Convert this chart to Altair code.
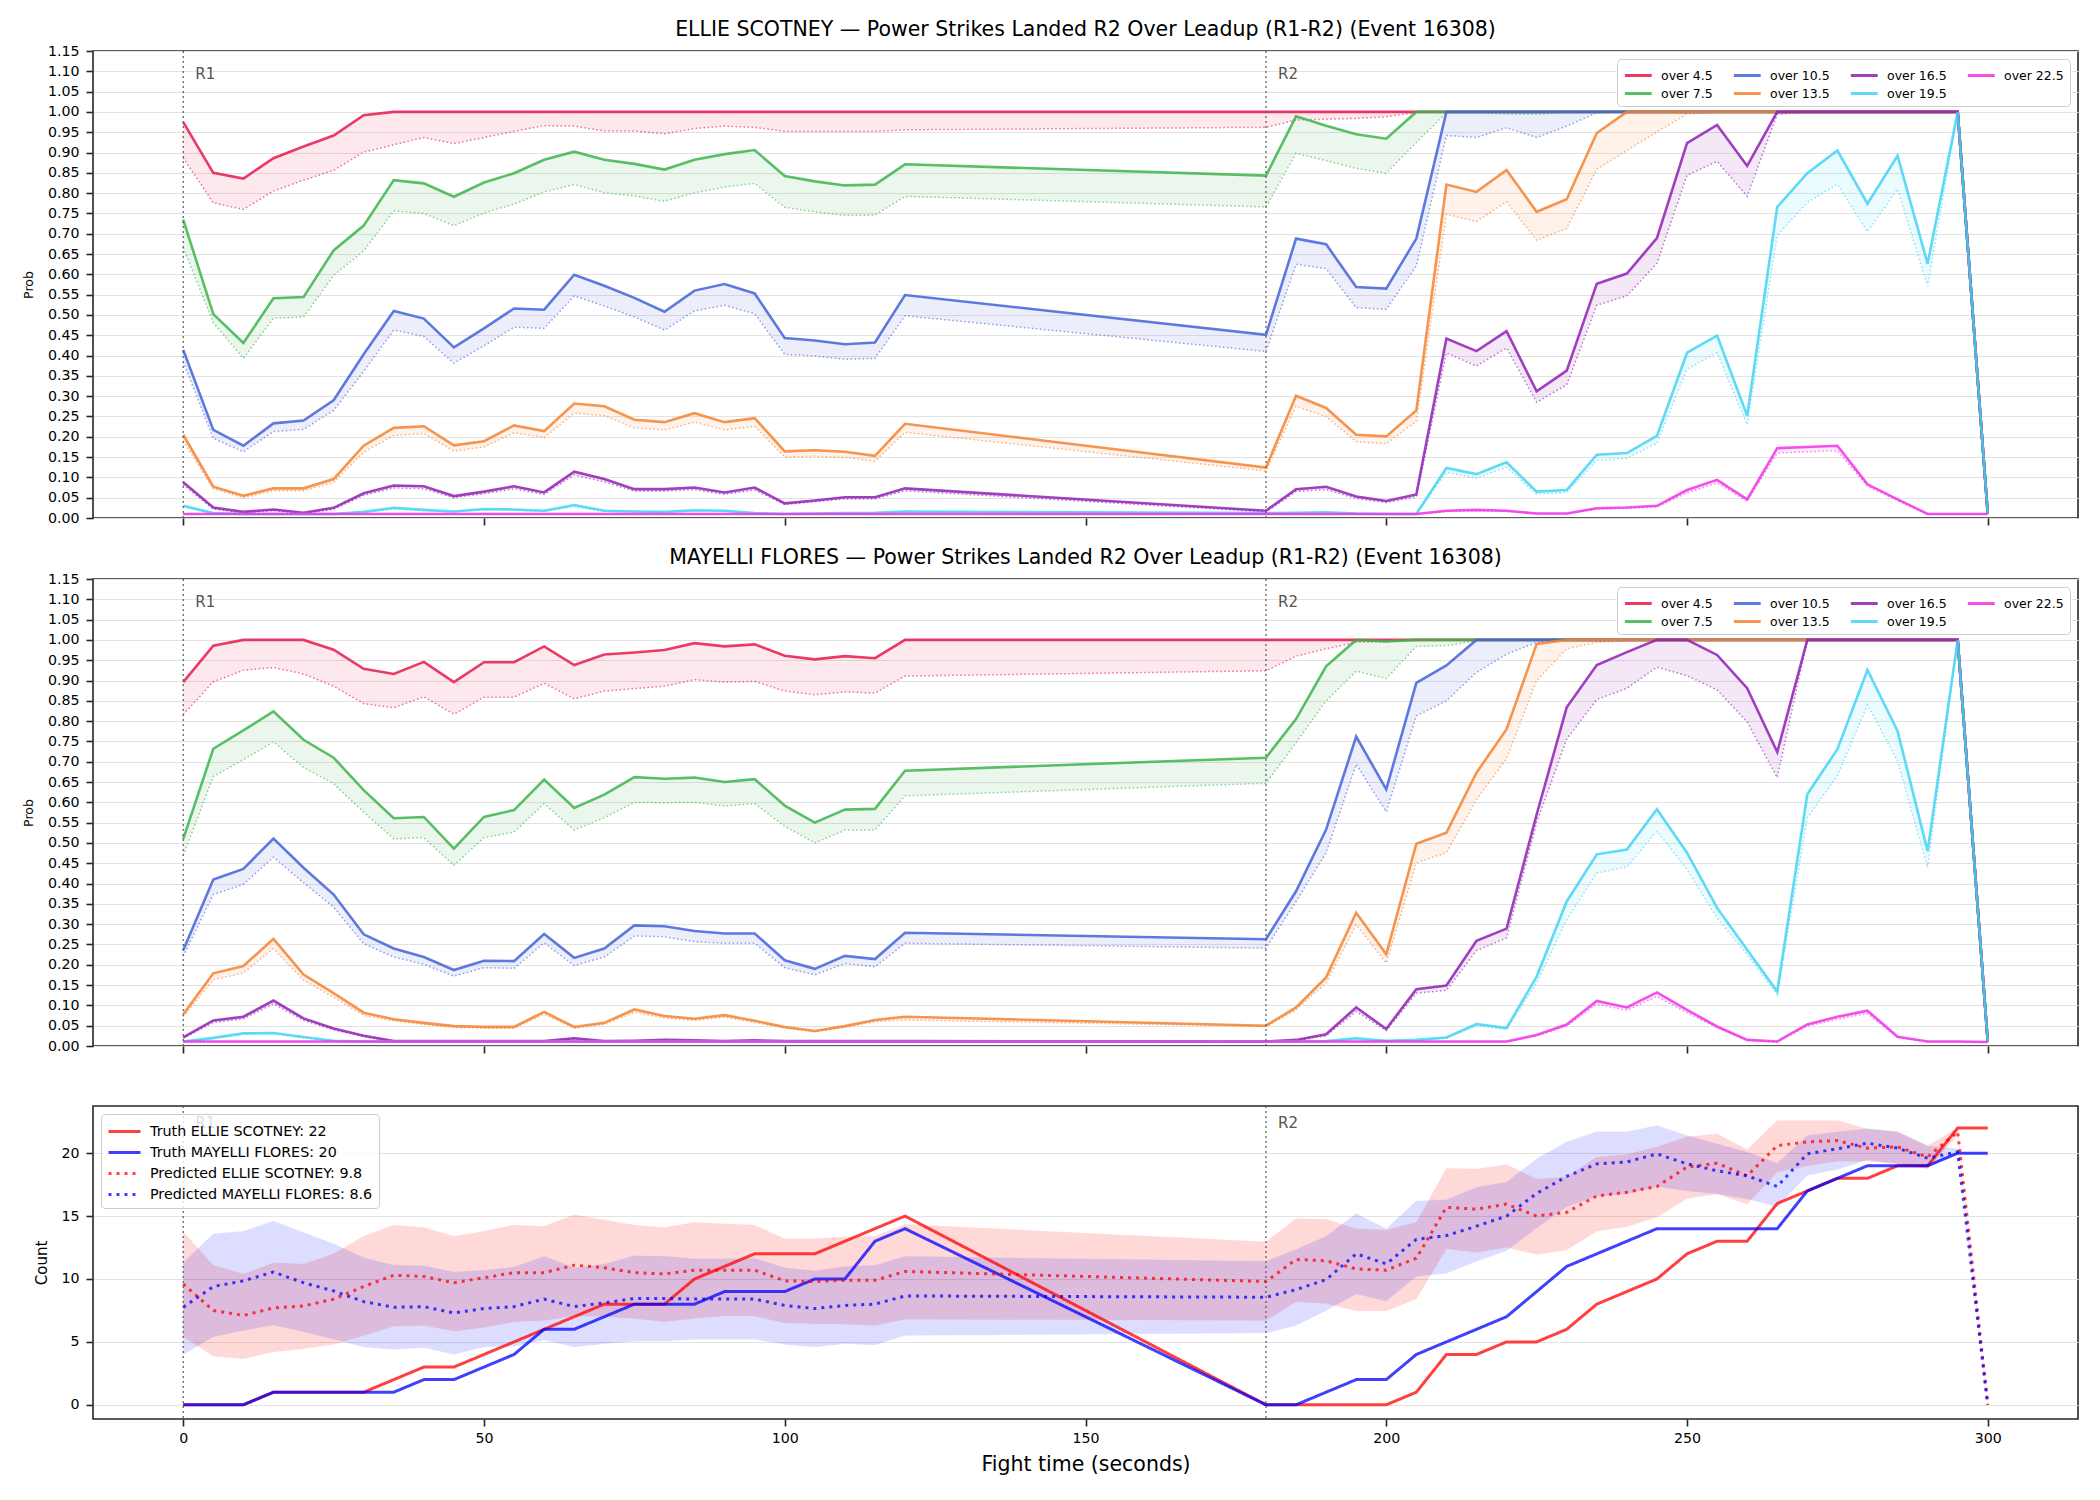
import altair as alt
import pandas as pd

# ---------------- data ----------------
TIMES = [0, 5, 10, 15, 20, 25, 30, 35, 40, 45, 50, 55, 60, 65, 70, 75, 80, 85, 90, 95, 100, 105, 110, 115, 120,
         180, 185, 190, 195, 200, 205, 210, 215, 220, 225, 230, 235, 240, 245, 250, 255, 260, 265, 270, 275, 280, 285, 290, 295, 300]
X_TICKS = [0, 50, 100, 150, 200, 250, 300]
PROB_TICKS = [0.0, 0.05, 0.1, 0.15, 0.2, 0.25, 0.3, 0.35, 0.4, 0.45, 0.5, 0.55, 0.6, 0.65, 0.7, 0.75, 0.8, 0.85, 0.9, 0.95, 1.0, 1.05, 1.1, 1.15]
COUNT_TICKS = [0, 5, 10, 15, 20]
THRESHOLDS = ["over 4.5", "over 7.5", "over 10.5", "over 13.5", "over 16.5", "over 19.5", "over 22.5"]
THRESH_COLORS = ["#e6194b", "#3cb44b", "#4363d8", "#f58231", "#911eb4", "#42d4f4", "#f032e6"]
ROUND_T = [0, 180]
ROUND_LABELS = ["R1", "R2"]

TITLE_ES = "ELLIE SCOTNEY \u2014 Power Strikes Landed R2 Over Leadup (R1-R2) (Event 16308)"
TITLE_MF = "MAYELLI FLORES \u2014 Power Strikes Landed R2 Over Leadup (R1-R2) (Event 16308)"

# ELLIE SCOTNEY: solid (HI) and dotted (LO) curves
ES_HI_45 = [0.975, 0.850, 0.836, 0.886, 0.915, 0.942, 0.992, 1.000, 1.000, 1.000, 1.000, 1.000, 1.000, 1.000, 1.000, 1.000, 1.000, 1.000, 1.000, 1.000, 1.000, 1.000, 1.000, 1.000, 1.000,
            1.000, 1.000, 1.000, 1.000, 1.000, 1.000, 1.000, 1.000, 1.000, 1.000, 1.000, 1.000, 1.000, 1.000, 1.000, 1.000, 1.000, 1.000, 1.000, 1.000, 1.000, 1.000, 1.000, 1.000, 0.010]
ES_LO_45 = [0.887, 0.776, 0.760, 0.805, 0.832, 0.856, 0.901, 0.919, 0.937, 0.922, 0.937, 0.952, 0.966, 0.965, 0.953, 0.953, 0.946, 0.959, 0.965, 0.962, 0.952, 0.952, 0.952, 0.952, 0.956,
            0.962, 0.980, 0.982, 0.984, 0.988, 0.999, 1.000, 1.000, 1.000, 1.000, 1.000, 1.000, 1.000, 1.000, 1.000, 1.000, 1.000, 1.000, 1.000, 1.000, 1.000, 1.000, 1.000, 1.000, 0.010]
ES_HI_75 = [0.735, 0.502, 0.431, 0.541, 0.544, 0.659, 0.720, 0.832, 0.824, 0.791, 0.826, 0.849, 0.882, 0.902, 0.882, 0.872, 0.858, 0.882, 0.896, 0.906, 0.842, 0.829, 0.819, 0.821, 0.871,
            0.843, 0.989, 0.966, 0.945, 0.934, 1.000, 1.000, 1.000, 1.000, 1.000, 1.000, 1.000, 1.000, 1.000, 1.000, 1.000, 1.000, 1.000, 1.000, 1.000, 1.000, 1.000, 1.000, 1.000, 0.010]
ES_LO_75 = [0.666, 0.481, 0.393, 0.492, 0.495, 0.597, 0.658, 0.756, 0.750, 0.720, 0.751, 0.773, 0.803, 0.821, 0.801, 0.793, 0.780, 0.801, 0.815, 0.824, 0.765, 0.754, 0.745, 0.746, 0.792,
            0.766, 0.898, 0.880, 0.861, 0.849, 0.925, 0.998, 0.998, 0.995, 0.994, 1.000, 1.000, 1.000, 1.000, 1.000, 1.000, 1.000, 1.000, 1.000, 1.000, 1.000, 1.000, 1.000, 1.000, 0.010]
ES_HI_105 = [0.414, 0.217, 0.178, 0.233, 0.240, 0.290, 0.403, 0.510, 0.491, 0.420, 0.467, 0.516, 0.513, 0.599, 0.572, 0.542, 0.508, 0.560, 0.576, 0.553, 0.443, 0.437, 0.428, 0.432, 0.549,
             0.451, 0.688, 0.674, 0.569, 0.565, 0.688, 1.000, 1.000, 1.000, 1.000, 1.000, 1.000, 1.000, 1.000, 1.000, 1.000, 1.000, 1.000, 1.000, 1.000, 1.000, 1.000, 1.000, 1.000, 0.010]
ES_LO_105 = [0.385, 0.196, 0.163, 0.213, 0.218, 0.265, 0.361, 0.463, 0.447, 0.381, 0.424, 0.470, 0.467, 0.547, 0.522, 0.495, 0.463, 0.510, 0.524, 0.503, 0.403, 0.399, 0.391, 0.393, 0.498,
             0.410, 0.625, 0.614, 0.518, 0.514, 0.621, 0.942, 0.937, 0.961, 0.937, 0.965, 0.998, 1.000, 1.000, 1.000, 1.000, 1.000, 1.000, 1.000, 1.000, 1.000, 1.000, 1.000, 1.000, 0.010]
ES_HI_135 = [0.205, 0.077, 0.055, 0.073, 0.073, 0.096, 0.178, 0.222, 0.226, 0.179, 0.189, 0.228, 0.214, 0.282, 0.275, 0.242, 0.236, 0.258, 0.236, 0.246, 0.164, 0.167, 0.163, 0.153, 0.232,
             0.124, 0.301, 0.271, 0.205, 0.201, 0.265, 0.821, 0.803, 0.857, 0.754, 0.785, 0.948, 1.000, 1.000, 1.000, 1.000, 1.000, 1.000, 1.000, 1.000, 1.000, 1.000, 1.000, 1.000, 0.010]
ES_LO_135 = [0.190, 0.072, 0.050, 0.067, 0.067, 0.088, 0.162, 0.203, 0.208, 0.165, 0.175, 0.210, 0.198, 0.258, 0.252, 0.222, 0.217, 0.236, 0.217, 0.226, 0.150, 0.152, 0.149, 0.140, 0.211,
             0.116, 0.275, 0.250, 0.188, 0.183, 0.238, 0.748, 0.730, 0.779, 0.684, 0.713, 0.859, 0.905, 0.951, 0.995, 1.000, 1.000, 1.000, 1.000, 1.000, 1.000, 1.000, 1.000, 1.000, 0.010]
ES_HI_165 = [0.088, 0.026, 0.015, 0.021, 0.013, 0.025, 0.061, 0.080, 0.078, 0.054, 0.065, 0.078, 0.063, 0.114, 0.096, 0.071, 0.071, 0.075, 0.063, 0.075, 0.036, 0.043, 0.051, 0.051, 0.073,
             0.018, 0.071, 0.077, 0.053, 0.042, 0.058, 0.442, 0.411, 0.460, 0.312, 0.363, 0.577, 0.602, 0.689, 0.923, 0.968, 0.867, 1.000, 1.000, 1.000, 1.000, 1.000, 1.000, 1.000, 0.010]
ES_LO_165 = [0.082, 0.022, 0.012, 0.018, 0.011, 0.021, 0.056, 0.074, 0.072, 0.050, 0.060, 0.072, 0.058, 0.106, 0.089, 0.066, 0.066, 0.070, 0.058, 0.069, 0.033, 0.040, 0.047, 0.047, 0.067,
             0.015, 0.065, 0.070, 0.048, 0.038, 0.052, 0.407, 0.374, 0.419, 0.285, 0.328, 0.524, 0.547, 0.627, 0.844, 0.878, 0.792, 0.994, 1.000, 1.000, 1.000, 1.000, 1.000, 1.000, 0.010]
ES_HI_195 = [0.030, 0.012, 0.010, 0.010, 0.010, 0.010, 0.015, 0.025, 0.020, 0.016, 0.022, 0.021, 0.018, 0.032, 0.018, 0.016, 0.015, 0.019, 0.018, 0.012, 0.010, 0.011, 0.012, 0.013, 0.016,
             0.012, 0.013, 0.014, 0.011, 0.010, 0.010, 0.123, 0.108, 0.137, 0.065, 0.069, 0.156, 0.160, 0.202, 0.407, 0.449, 0.252, 0.766, 0.849, 0.905, 0.774, 0.892, 0.626, 1.000, 0.010]
ES_LO_195 = [0.027, 0.011, 0.010, 0.010, 0.010, 0.010, 0.014, 0.022, 0.018, 0.015, 0.020, 0.019, 0.016, 0.028, 0.016, 0.015, 0.014, 0.017, 0.016, 0.011, 0.010, 0.010, 0.011, 0.012, 0.015,
             0.011, 0.012, 0.013, 0.010, 0.010, 0.010, 0.112, 0.098, 0.125, 0.059, 0.063, 0.142, 0.147, 0.184, 0.367, 0.407, 0.230, 0.696, 0.777, 0.822, 0.705, 0.810, 0.571, 0.999, 0.010]
ES_HI_225 = [0.010, 0.010, 0.010, 0.010, 0.010, 0.010, 0.010, 0.010, 0.010, 0.010, 0.010, 0.010, 0.010, 0.010, 0.010, 0.010, 0.010, 0.010, 0.010, 0.010, 0.010, 0.010, 0.010, 0.010, 0.010,
             0.010, 0.010, 0.010, 0.010, 0.010, 0.010, 0.018, 0.020, 0.018, 0.011, 0.011, 0.024, 0.026, 0.030, 0.069, 0.094, 0.046, 0.172, 0.175, 0.178, 0.083, 0.046, 0.010, 0.010, 0.010]
ES_LO_225 = [0.009, 0.009, 0.009, 0.009, 0.009, 0.009, 0.009, 0.009, 0.009, 0.009, 0.009, 0.009, 0.009, 0.009, 0.009, 0.009, 0.009, 0.009, 0.009, 0.009, 0.009, 0.009, 0.009, 0.009, 0.009,
             0.009, 0.009, 0.009, 0.009, 0.009, 0.009, 0.016, 0.018, 0.016, 0.010, 0.010, 0.022, 0.024, 0.027, 0.062, 0.086, 0.042, 0.160, 0.163, 0.166, 0.078, 0.043, 0.009, 0.009, 0.009]

# MAYELLI FLORES
MF_HI_45 = [0.896, 0.986, 1.000, 1.000, 1.000, 0.976, 0.929, 0.916, 0.946, 0.896, 0.945, 0.945, 0.984, 0.938, 0.964, 0.969, 0.975, 0.992, 0.984, 0.989, 0.961, 0.952, 0.960, 0.955, 1.000,
            1.000, 1.000, 1.000, 1.000, 1.000, 1.000, 1.000, 1.000, 1.000, 1.000, 1.000, 1.000, 1.000, 1.000, 1.000, 1.000, 1.000, 1.000, 1.000, 1.000, 1.000, 1.000, 1.000, 1.000, 0.010]
MF_LO_45 = [0.816, 0.897, 0.925, 0.932, 0.916, 0.886, 0.843, 0.833, 0.860, 0.817, 0.859, 0.859, 0.893, 0.855, 0.874, 0.880, 0.886, 0.902, 0.896, 0.898, 0.874, 0.865, 0.872, 0.869, 0.911,
            0.924, 0.960, 0.978, 0.994, 0.996, 1.000, 1.000, 1.000, 1.000, 1.000, 1.000, 1.000, 1.000, 1.000, 1.000, 1.000, 1.000, 1.000, 1.000, 1.000, 1.000, 1.000, 1.000, 1.000, 0.010]
MF_HI_75 = [0.510, 0.732, 0.777, 0.824, 0.754, 0.710, 0.630, 0.561, 0.564, 0.486, 0.564, 0.581, 0.656, 0.586, 0.619, 0.662, 0.658, 0.661, 0.650, 0.657, 0.592, 0.550, 0.582, 0.584, 0.678,
            0.710, 0.805, 0.935, 1.000, 0.996, 1.000, 1.000, 1.000, 1.000, 1.000, 1.000, 1.000, 1.000, 1.000, 1.000, 1.000, 1.000, 1.000, 1.000, 1.000, 1.000, 1.000, 1.000, 1.000, 0.010]
MF_LO_75 = [0.469, 0.664, 0.705, 0.749, 0.686, 0.646, 0.576, 0.510, 0.513, 0.445, 0.513, 0.527, 0.597, 0.532, 0.562, 0.600, 0.599, 0.600, 0.591, 0.597, 0.541, 0.500, 0.531, 0.532, 0.616,
            0.647, 0.747, 0.850, 0.923, 0.905, 0.984, 0.986, 0.998, 1.000, 1.000, 1.000, 1.000, 1.000, 1.000, 1.000, 1.000, 1.000, 1.000, 1.000, 1.000, 1.000, 1.000, 1.000, 1.000, 0.010]
MF_HI_105 = [0.236, 0.410, 0.436, 0.511, 0.439, 0.373, 0.275, 0.240, 0.219, 0.187, 0.210, 0.209, 0.276, 0.217, 0.240, 0.297, 0.295, 0.283, 0.277, 0.277, 0.211, 0.190, 0.222, 0.214, 0.279,
             0.263, 0.381, 0.533, 0.762, 0.632, 0.894, 0.937, 1.000, 1.000, 1.000, 1.000, 1.000, 1.000, 1.000, 1.000, 1.000, 1.000, 1.000, 1.000, 1.000, 1.000, 1.000, 1.000, 1.000, 0.010]
MF_LO_105 = [0.221, 0.373, 0.398, 0.465, 0.402, 0.342, 0.252, 0.219, 0.201, 0.172, 0.193, 0.191, 0.254, 0.198, 0.219, 0.271, 0.269, 0.257, 0.253, 0.253, 0.193, 0.175, 0.203, 0.195, 0.253,
             0.241, 0.356, 0.476, 0.694, 0.577, 0.813, 0.850, 0.920, 0.965, 0.994, 1.000, 1.000, 1.000, 1.000, 1.000, 1.000, 1.000, 1.000, 1.000, 1.000, 1.000, 1.000, 1.000, 1.000, 0.010]
MF_HI_135 = [0.078, 0.179, 0.197, 0.264, 0.176, 0.130, 0.082, 0.066, 0.057, 0.049, 0.047, 0.047, 0.084, 0.047, 0.057, 0.090, 0.074, 0.067, 0.076, 0.062, 0.047, 0.037, 0.049, 0.064, 0.072,
             0.050, 0.095, 0.169, 0.328, 0.226, 0.498, 0.525, 0.673, 0.780, 0.990, 1.000, 1.000, 1.000, 1.000, 1.000, 1.000, 1.000, 1.000, 1.000, 1.000, 1.000, 1.000, 1.000, 1.000, 0.010]
MF_LO_135 = [0.072, 0.163, 0.180, 0.240, 0.162, 0.120, 0.075, 0.062, 0.053, 0.046, 0.044, 0.044, 0.078, 0.044, 0.053, 0.083, 0.069, 0.063, 0.071, 0.058, 0.044, 0.035, 0.046, 0.060, 0.064,
             0.048, 0.089, 0.155, 0.299, 0.204, 0.451, 0.476, 0.607, 0.708, 0.900, 0.978, 0.994, 0.998, 1.000, 1.000, 1.000, 1.000, 1.000, 1.000, 1.000, 1.000, 1.000, 1.000, 1.000, 0.010]
MF_HI_165 = [0.021, 0.063, 0.072, 0.112, 0.068, 0.043, 0.025, 0.012, 0.012, 0.012, 0.012, 0.012, 0.012, 0.019, 0.012, 0.013, 0.015, 0.014, 0.012, 0.014, 0.012, 0.012, 0.012, 0.012, 0.012,
             0.011, 0.015, 0.029, 0.095, 0.042, 0.140, 0.149, 0.259, 0.289, 0.570, 0.834, 0.938, 0.970, 1.000, 1.000, 0.963, 0.881, 0.724, 1.000, 1.000, 1.000, 1.000, 1.000, 1.000, 0.010]
MF_LO_165 = [0.019, 0.058, 0.067, 0.104, 0.063, 0.040, 0.023, 0.011, 0.011, 0.011, 0.011, 0.011, 0.011, 0.017, 0.011, 0.012, 0.013, 0.012, 0.011, 0.012, 0.011, 0.011, 0.011, 0.011, 0.011,
             0.011, 0.013, 0.025, 0.085, 0.038, 0.130, 0.137, 0.235, 0.266, 0.550, 0.756, 0.853, 0.881, 0.933, 0.912, 0.877, 0.798, 0.661, 1.000, 1.000, 1.000, 1.000, 1.000, 1.000, 0.010]
MF_HI_195 = [0.011, 0.020, 0.031, 0.032, 0.022, 0.013, 0.011, 0.011, 0.011, 0.011, 0.011, 0.011, 0.011, 0.011, 0.011, 0.011, 0.011, 0.011, 0.011, 0.011, 0.011, 0.011, 0.011, 0.011, 0.011,
             0.011, 0.011, 0.012, 0.019, 0.013, 0.015, 0.021, 0.054, 0.044, 0.171, 0.356, 0.472, 0.484, 0.583, 0.476, 0.340, 0.237, 0.134, 0.620, 0.731, 0.926, 0.776, 0.480, 1.000, 0.010]
MF_LO_195 = [0.010, 0.018, 0.029, 0.030, 0.020, 0.012, 0.010, 0.010, 0.010, 0.010, 0.010, 0.010, 0.010, 0.010, 0.010, 0.010, 0.010, 0.010, 0.010, 0.010, 0.010, 0.010, 0.010, 0.010, 0.010,
             0.010, 0.010, 0.011, 0.017, 0.012, 0.014, 0.019, 0.050, 0.041, 0.155, 0.311, 0.426, 0.441, 0.529, 0.435, 0.315, 0.225, 0.126, 0.562, 0.665, 0.840, 0.702, 0.439, 0.999, 0.010]
MF_HI_225 = [0.011, 0.011, 0.011, 0.011, 0.011, 0.011, 0.011, 0.011, 0.011, 0.011, 0.011, 0.011, 0.011, 0.011, 0.011, 0.011, 0.011, 0.011, 0.011, 0.011, 0.011, 0.011, 0.011, 0.011, 0.011,
             0.011, 0.011, 0.011, 0.011, 0.011, 0.011, 0.011, 0.011, 0.011, 0.027, 0.053, 0.111, 0.095, 0.132, 0.089, 0.048, 0.015, 0.011, 0.053, 0.072, 0.087, 0.023, 0.011, 0.011, 0.010]
MF_LO_225 = [0.010, 0.010, 0.010, 0.010, 0.010, 0.010, 0.010, 0.010, 0.010, 0.010, 0.010, 0.010, 0.010, 0.010, 0.010, 0.010, 0.010, 0.010, 0.010, 0.010, 0.010, 0.010, 0.010, 0.010, 0.010,
             0.010, 0.010, 0.010, 0.010, 0.010, 0.010, 0.010, 0.010, 0.010, 0.025, 0.049, 0.103, 0.088, 0.122, 0.082, 0.045, 0.014, 0.010, 0.049, 0.066, 0.080, 0.021, 0.010, 0.010, 0.009]

# Count panel
COUNT_LABELS = ["Truth ELLIE SCOTNEY: 22", "Truth MAYELLI FLORES: 20",
                "Predicted ELLIE SCOTNEY: 9.8", "Predicted MAYELLI FLORES: 8.6"]
TRUTH_ES = [0, 0, 0, 1, 1, 1, 1, 2, 3, 3, 4, 5, 6, 7, 8, 8, 8, 10, 11, 12, 12, 12, 13, 14, 15,
            0, 0, 0, 0, 0, 1, 4, 4, 5, 5, 6, 8, 9, 10, 12, 13, 13, 16, 17, 18, 18, 19, 19, 22, 22]
TRUTH_MF = [0, 0, 0, 1, 1, 1, 1, 1, 2, 2, 3, 4, 6, 6, 7, 8, 8, 8, 9, 9, 9, 10, 10, 13, 14,
            0, 0, 1, 2, 2, 4, 5, 6, 7, 9, 11, 12, 13, 14, 14, 14, 14, 14, 17, 18, 19, 19, 19, 20, 20]
PRED_ES = [9.6, 7.5, 7.1, 7.7, 7.85, 8.4, 9.4, 10.3, 10.2, 9.7, 10.1, 10.5, 10.5, 11.1, 10.9, 10.5, 10.4, 10.7, 10.7, 10.7, 9.85, 9.8, 9.9, 9.9, 10.6,
           9.8, 11.55, 11.45, 10.8, 10.7, 11.65, 15.7, 15.55, 15.95, 15.0, 15.3, 16.6, 16.9, 17.35, 18.9, 19.2, 18.2, 20.6, 20.9, 21.0, 20.4, 20.5, 19.7, 21.7, 0.0]
PRED_MF = [7.75, 9.4, 9.85, 10.55, 9.7, 9.05, 8.2, 7.75, 7.8, 7.3, 7.65, 7.8, 8.4, 7.8, 8.1, 8.45, 8.45, 8.4, 8.4, 8.4, 7.9, 7.65, 7.9, 8.0, 8.65,
           8.55, 9.15, 9.95, 12.0, 11.2, 13.15, 13.45, 14.2, 15.0, 16.8, 18.15, 19.15, 19.3, 19.95, 19.15, 18.6, 18.2, 17.35, 19.95, 20.35, 20.8, 20.4, 19.6, 20.1, 0.0]
BAND_ES_HI = [13.75, 11.1, 10.4, 11.3, 11.2, 12.0, 13.4, 14.3, 14.1, 13.4, 13.8, 14.3, 14.2, 15.1, 14.7, 14.3, 14.1, 14.5, 14.4, 14.3, 13.2, 13.2, 13.35, 13.4, 14.35,
              12.95, 14.8, 14.75, 14.0, 13.9, 14.5, 18.8, 18.75, 19.1, 17.95, 18.1, 19.7, 19.9, 20.5, 21.3, 21.55, 20.3, 22.6, 22.6, 22.6, 21.95, 21.7, 20.6, 22.0, 0.0]
BAND_ES_LO = [5.4, 3.85, 3.65, 4.2, 4.45, 4.8, 5.5, 6.25, 6.3, 5.85, 6.15, 6.6, 6.7, 7.05, 7.0, 6.85, 6.6, 6.85, 7.05, 7.05, 6.5, 6.45, 6.4, 6.3, 6.8,
              6.7, 8.2, 8.05, 7.45, 7.45, 8.4, 12.4, 12.1, 12.5, 11.95, 12.3, 13.8, 14.15, 14.9, 16.4, 16.75, 15.95, 18.5, 19.0, 19.35, 19.35, 19.15, 18.75, 21.4, 0.0]
BAND_MF_HI = [11.3, 13.6, 13.8, 14.6, 13.7, 12.8, 11.7, 11.1, 11.05, 10.55, 10.7, 10.95, 11.8, 10.9, 11.2, 11.85, 11.8, 11.6, 11.6, 11.65, 10.9, 10.65, 11.0, 11.1, 11.8,
              11.4, 12.35, 13.4, 15.2, 14.0, 16.2, 16.3, 17.3, 17.7, 19.55, 20.9, 21.7, 21.7, 22.2, 21.4, 20.75, 20.1, 19.2, 21.4, 21.7, 21.95, 21.7, 20.6, 20.35, 0.0]
BAND_MF_LO = [4.0, 5.4, 5.9, 6.35, 5.8, 5.2, 4.6, 4.4, 4.55, 4.0, 4.6, 4.65, 5.15, 4.6, 4.85, 5.05, 5.05, 5.2, 5.2, 5.2, 4.8, 4.6, 4.85, 4.75, 5.5,
              5.7, 6.3, 7.5, 8.8, 8.25, 10.2, 10.45, 11.4, 12.25, 14.05, 15.75, 16.55, 16.75, 17.35, 17.0, 16.75, 16.35, 15.75, 18.25, 18.7, 19.45, 19.15, 18.9, 19.95, 0.0]

# ---------------- build tables ----------------
ES_HI = [ES_HI_45, ES_HI_75, ES_HI_105, ES_HI_135, ES_HI_165, ES_HI_195, ES_HI_225]
ES_LO = [ES_LO_45, ES_LO_75, ES_LO_105, ES_LO_135, ES_LO_165, ES_LO_195, ES_LO_225]
MF_HI = [MF_HI_45, MF_HI_75, MF_HI_105, MF_HI_135, MF_HI_165, MF_HI_195, MF_HI_225]
MF_LO = [MF_LO_45, MF_LO_75, MF_LO_105, MF_LO_135, MF_LO_165, MF_LO_195, MF_LO_225]


def prob_table(his, los):
    rows = []
    for name, hi, lo in zip(THRESHOLDS, his, los):
        assert len(hi) == len(TIMES) and len(lo) == len(TIMES), (name, len(hi), len(lo))
        for t, h, l in zip(TIMES, hi, lo):
            rows.append({"t": t, "series": name, "hi": h, "lo": l})
    return pd.DataFrame(rows)


marks_df = pd.DataFrame({"t": ROUND_T, "label": ROUND_LABELS})

FONT = "DejaVu Sans"
PLOT_W = 1985
XSCALE = alt.Scale(domain=[-15, 315], nice=False, zero=False)
X_AXIS_TOP = alt.Axis(values=X_TICKS, labels=False, title=None, grid=False)
X_AXIS_BOTTOM = alt.Axis(values=X_TICKS, title="Fight time (seconds)", grid=False, labelPadding=5,
                         titleFontSize=20.5, titleY=45, titleBaseline="middle")


def prob_panel(title, df):
    xe = alt.X("t:Q", scale=XSCALE, axis=X_AXIS_TOP)
    yscale = alt.Scale(domain=[0, 1.15], nice=False, zero=False)
    yaxis = alt.Axis(values=PROB_TICKS, format=".2f", title="Prob", titleFontSize=12.5,
                     titleX=-65, titleBaseline="middle", titleAlign="center")
    cscale = alt.Scale(domain=THRESHOLDS, range=THRESH_COLORS)
    legend = alt.Legend(title=None, orient="top-right", offset=8, columns=4,
                        symbolType="M-1,0H2.1", symbolStrokeWidth=3, symbolSize=300, symbolOpacity=0.85,
                        symbolFillColor="transparent", symbolDash=[1, 0],
                        labelFontSize=12.5, labelFont=FONT, labelColor="black",
                        fillColor="white", strokeColor="#cccccc", padding=6, cornerRadius=4,
                        columnPadding=14, rowPadding=1, labelOffset=17)
    band = alt.Chart(df).mark_area(opacity=0.1).encode(
        x=xe, y=alt.Y("lo:Q", scale=yscale, axis=yaxis), y2="hi:Q",
        color=alt.Color("series:N", scale=cscale, legend=legend))
    dotted = alt.Chart(df).mark_line(strokeDash=[1.5, 2.5], strokeWidth=1.5, opacity=0.6).encode(
        x=xe, y=alt.Y("lo:Q", scale=yscale, axis=yaxis),
        color=alt.Color("series:N", scale=cscale, legend=legend))
    solid = alt.Chart(df).mark_line(strokeWidth=2.6, opacity=0.85).encode(
        x=xe, y=alt.Y("hi:Q", scale=yscale, axis=yaxis),
        color=alt.Color("series:N", scale=cscale, legend=legend))
    rules = alt.Chart(marks_df).mark_rule(color="#555555", strokeDash=[2, 3], strokeWidth=1.2).encode(x=xe)
    texts = alt.Chart(marks_df).mark_text(align="left", baseline="middle", dx=12, fontSize=15,
                                          color="#555555", font=FONT).encode(
        x=xe, y=alt.value(23), text="label:N")
    return alt.layer(band, dotted, solid, rules, texts).properties(
        width=PLOT_W, height=467,
        title=alt.TitleParams(text=title, fontSize=20.5, fontWeight="normal", font=FONT,
                              anchor="middle", frame="group", offset=4, color="black"))


df_es = prob_table(ES_HI, ES_LO)
df_mf = prob_table(MF_HI, MF_LO)
p1 = prob_panel(TITLE_ES, df_es)
p2 = prob_panel(TITLE_MF, df_mf)

# count panel tables
band_rows = []
for who, his, los in [("ES", BAND_ES_HI, BAND_ES_LO), ("MF", BAND_MF_HI, BAND_MF_LO)]:
    for t, h, l in zip(TIMES, his, los):
        band_rows.append({"t": t, "who": who, "hi": h, "lo": l})
band_df = pd.DataFrame(band_rows)
line_rows = []
for lab, vals in zip(COUNT_LABELS, [TRUTH_ES, TRUTH_MF, PRED_ES, PRED_MF]):
    assert len(vals) == len(TIMES), lab
    for t, v in zip(TIMES, vals):
        line_rows.append({"t": t, "label": lab, "v": v})
line_df = pd.DataFrame(line_rows)

xb = alt.X("t:Q", scale=XSCALE, axis=X_AXIS_BOTTOM)
cy = alt.Scale(domain=[-1.13, 23.75], nice=False, zero=False)
cyaxis = alt.Axis(values=COUNT_TICKS, title="Count", titleFontSize=15, titleX=-52,
                  titleBaseline="middle", titleAlign="center")
band_es = alt.Chart(band_df).transform_filter(alt.datum.who == "ES").mark_area(
    color="#ff0000", opacity=0.15, stroke="#ff0000", strokeOpacity=0.12, strokeWidth=1).encode(
    x=xb, y=alt.Y("lo:Q", scale=cy, axis=cyaxis), y2="hi:Q")
band_mf = alt.Chart(band_df).transform_filter(alt.datum.who == "MF").mark_area(
    color="#0000ff", opacity=0.13, stroke="#0000ff", strokeOpacity=0.1, strokeWidth=1).encode(
    x=xb, y=alt.Y("lo:Q", scale=cy, axis=cyaxis), y2="hi:Q")
cnt_legend = alt.Legend(title=None, orient="top-left", offset=8, symbolType="M-1,0H2.2",
                        symbolStrokeWidth=3, symbolSize=400, labelFontSize=14.3, labelFont=FONT,
                        labelLimit=500, labelColor="black", fillColor="rgba(255,255,255,0.8)",
                        strokeColor="#cccccc", padding=6, cornerRadius=4, rowPadding=2, labelOffset=20)
lines = alt.Chart(line_df).mark_line(strokeWidth=3).encode(
    x=xb, y=alt.Y("v:Q", scale=cy, axis=cyaxis),
    color=alt.Color("label:N", scale=alt.Scale(domain=COUNT_LABELS,
                                               range=["#ff0000", "#0000ff", "#ff0000", "#0000ff"]),
                    legend=cnt_legend, sort=COUNT_LABELS),
    strokeDash=alt.StrokeDash("label:N", scale=alt.Scale(domain=COUNT_LABELS,
                                                         range=[[1, 0], [1, 0], [3, 5], [3, 5]]),
                              legend=cnt_legend, sort=COUNT_LABELS),
    opacity=alt.Opacity("label:N", scale=alt.Scale(domain=COUNT_LABELS, range=[0.75, 0.75, 0.6, 0.6]),
                        legend=None))
rules3 = alt.Chart(marks_df).mark_rule(color="#555555", strokeDash=[2, 3], strokeWidth=1.2).encode(x=xb)
texts3 = alt.Chart(marks_df).mark_text(align="left", baseline="middle", dx=12, fontSize=15,
                                       color="#555555", font=FONT).encode(
    x=xb, y=alt.value(17), text="label:N")
p3 = alt.layer(band_es, band_mf, lines, rules3, texts3).properties(
    width=PLOT_W, height=313,
    title=alt.TitleParams(text=" ", fontSize=20.5, offset=10, frame="group"))

chart = alt.vconcat(p1, p2, p3, spacing=19).resolve_scale(
    color="independent", strokeDash="independent", opacity="independent", x="independent", y="independent"
).resolve_legend(
    color="independent", strokeDash="independent", opacity="independent"
).properties(
    padding={"left": 21, "top": 18, "right": 10, "bottom": 5}
).configure(font=FONT).configure_view(
    stroke="#262626", strokeWidth=1.6
).configure_axis(
    domain=False, labelFont=FONT, labelFontSize=14.2, labelColor="black",
    tickColor="#262626", tickSize=7, tickWidth=1.6, labelPadding=7,
    gridColor="#e2e2e2", gridWidth=1, titleFont=FONT, titleFontWeight="normal", titleColor="black"
).configure_axisX(grid=False).configure_axisY(grid=True)

chart.save("out.html", embed_options={"renderer": "svg", "actions": False})
